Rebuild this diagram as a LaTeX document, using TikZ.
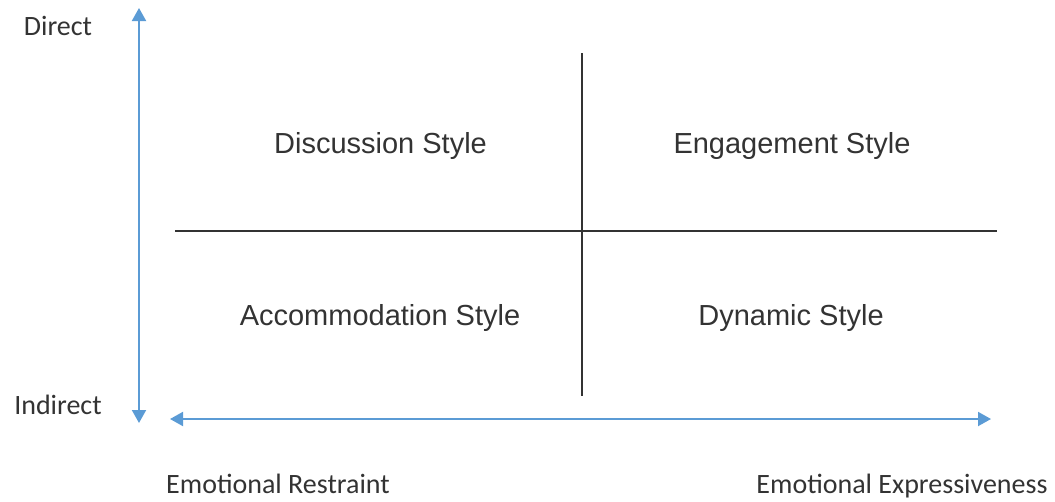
\documentclass[tikz,border=0pt]{standalone}
\usepackage{fontspec}
\setmainfont{Liberation Sans}
\newfontfamily\labelfont{Carlito}
\usetikzlibrary{arrows.meta}
\definecolor{axisblue}{HTML}{5B9BD5}
\definecolor{inkgray}{HTML}{333333}
\begin{document}
\begin{tikzpicture}[x=1pt,y=-1pt,
  axis/.style={draw=axisblue,line width=2pt,
    {Triangle[width=14pt,length=13pt]}-{Triangle[width=14pt,length=13pt]}},
  divider/.style={draw=inkgray,line width=2pt},
  quad/.style={font=\fontsize{29}{34}\selectfont,text=inkgray,anchor=base,inner sep=0pt},
  axlabel/.style={font=\labelfont\fontsize{28}{33}\selectfont,text=inkgray,anchor=base,inner sep=0pt}]
  \useasboundingbox (0,0) rectangle (1055,501);
  % axes
  \coordinate (vtop) at (139,8);
  \coordinate (vbot) at (139,423);
  \coordinate (hleft) at (170,419);
  \coordinate (hright) at (991,419);
  \draw[axis] (vtop) -- (vbot);
  \draw[axis] (hleft) -- (hright);
  % quadrant dividers
  \coordinate (dtop) at (582,53);
  \coordinate (dbot) at (582,396);
  \coordinate (dleft) at (175,231);
  \coordinate (dright) at (997,231);
  \draw[divider] (dtop) -- (dbot);
  \draw[divider] (dleft) -- (dright);
  % quadrant names
  \node[quad] (disc) at (380.5,153) {Discussion Style};
  \node[quad] (eng) at (792,153) {Engagement Style};
  \node[quad] (acc) at (380,325) {Accommodation Style};
  \node[quad] (dyn) at (791,325) {Dynamic Style};
  % axis labels
  \node[axlabel] (direct) at (58,35) {Direct};
  \node[axlabel] (indirect) at (58,414) {Indirect};
  \node[axlabel] (restraint) at (278,493) {Emotional Restraint};
  \node[axlabel] (express) at (902,493) {Emotional Expressiveness};
\end{tikzpicture}
\end{document}
